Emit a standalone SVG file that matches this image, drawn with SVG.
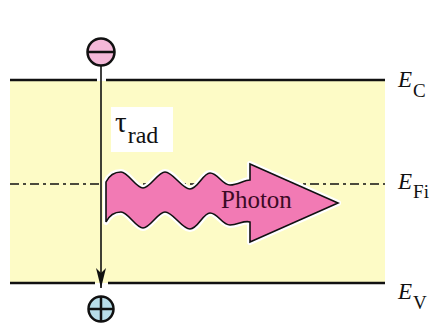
<svg xmlns="http://www.w3.org/2000/svg" width="433" height="326" viewBox="0 0 433 326">
<style>
.band{stroke:#111;stroke-width:2.5;fill:none}
.serif{font-family:"Liberation Serif","Times New Roman",serif;fill:#111}
.lbl{font-size:23px;font-style:italic}
.sub{font-size:19px;font-style:normal}
.ch{stroke:#111;stroke-width:2.5}
</style>
<defs>
<marker id="ah" viewBox="0 0 20 10" refX="20" refY="5" markerWidth="20" markerHeight="10" markerUnits="userSpaceOnUse" orient="auto">
<path d="M0,0 L5,5 L0,10 L20,5 Z" fill="#111"/>
</marker>
<path id="wave" d="M106,182 C109,176 114,172 121,172 C128,172 136,188 143,188 C150,188 158,172 165,172 C173,172 182,189 190,189 C198,189 203,173 210,173 C218,173 222,185 230,185 C238,185 244,180 250,180 L250,164 L338,203 L250,242 L250,222 C244,220 238,225 230,225 C222,225 218,213 210,213 C203,213 198,229 190,229 C182,229 173,212 165,212 C158,212 150,228 143,228 C136,228 128,212 121,212 C114,212 109,216 106,222 Z"/>
</defs>
<rect width="433" height="326" fill="#fff"/>
<g id="band">
<rect x="10" y="81" width="375" height="202" fill="#fdfbc6"/>
<line class="band" x1="10" y1="80" x2="97" y2="80"/>
<line class="band" x1="106" y1="80" x2="385" y2="80"/>
<line class="band" x1="10" y1="283" x2="95" y2="283"/>
<line class="band" x1="108" y1="283" x2="385" y2="283"/>
<line x1="10" y1="184" x2="385" y2="184" stroke="#111" stroke-width="1.5" stroke-dasharray="9 4 3 4"/>
</g>
<g id="labels">
<text class="serif lbl" x="398" y="87">E<tspan class="sub" dx="1" dy="10">C</tspan></text>
<text class="serif lbl" x="398" y="189">E<tspan class="sub" dx="1" dy="9">Fi</tspan></text>
<text class="serif lbl" x="398" y="299">E<tspan class="sub" dx="1" dy="10">V</tspan></text>
</g>
<g id="tau-label">
<rect x="111" y="107" width="62" height="45" fill="#fff"/>
<text class="serif" x="115" y="132" font-size="29">τ<tspan font-size="24" dx="1" dy="11">rad</tspan></text>
</g>
<g id="connectors">
<line x1="101" y1="66" x2="101" y2="288" stroke="#111" stroke-width="1.6" marker-end="url(#ah)"/>
</g>
<g id="electron">
<circle cx="101" cy="52" r="13.5" fill="#f4b8d8" stroke="#111" stroke-width="2.5"/>
<line class="ch" x1="88" y1="52" x2="114" y2="52"/>
</g>
<g id="hole">
<circle cx="101" cy="309" r="12.5" fill="#b8dde8" stroke="#111" stroke-width="2.5"/>
<line class="ch" x1="89" y1="309" x2="113" y2="309"/>
<line class="ch" x1="101" y1="297" x2="101" y2="321"/>
</g>
<g id="photon">
<use href="#wave" fill="none" stroke="#fff" stroke-width="6" stroke-linejoin="round"/>
<use href="#wave" fill="#f27ab4" stroke="#111" stroke-width="1.6"/>
<text class="serif" x="221" y="208" font-size="25" style="fill:#3d0a25">Photon</text>
</g>
</svg>
